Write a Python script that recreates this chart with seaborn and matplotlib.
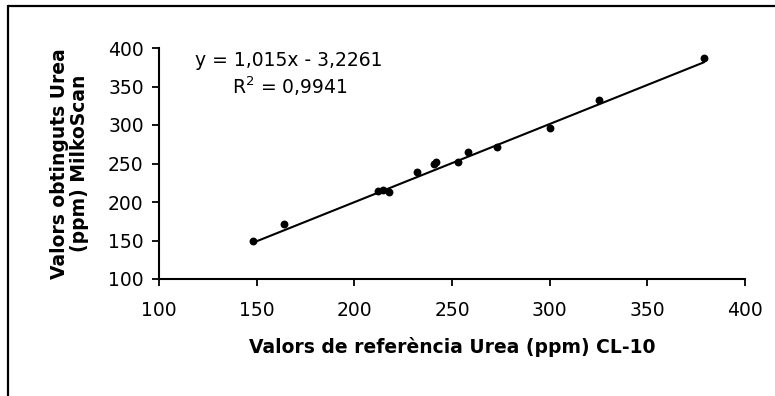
import matplotlib
matplotlib.use("Agg")
import matplotlib.pyplot as plt
import seaborn as sns
import numpy as np
import pandas as pd
from matplotlib.lines import Line2D

# Data
ref_cl10 = [148, 164, 212, 214.5, 217.5, 232, 241, 242, 253, 258, 273, 300, 325, 379]
milkoscan = [149, 172, 214, 215, 213, 239, 250, 252, 252, 265, 271, 296, 332, 387]
slope = 1.015
intercept = -3.2261
r2_text = "0,9941"
eq_text = "y = 1,015x - 3,2261"
x_ticks = [100, 150, 200, 250, 300, 350, 400]
y_ticks = [100, 150, 200, 250, 300, 350, 400]
x_label = "Valors de referència Urea (ppm) CL-10"
y_label = "Valors obtinguts Urea\n(ppm) MilkoScan"

sns.set_style("white")
plt.rcParams['font.family'] = ['DejaVu Sans']
plt.rcParams['text.color'] = 'black'
plt.rcParams['axes.labelcolor'] = 'black'

df = pd.DataFrame({"x": ref_cl10, "y": milkoscan})
xs = np.array([min(ref_cl10), max(ref_cl10)])
fit = pd.DataFrame({"x": xs, "y": slope * xs + intercept})

fig = plt.figure(figsize=(7.75, 3.96), dpi=100)
ax = fig.add_axes([159/775, 1 - 279/396, (745-159)/775, (279-48)/396])

sns.lineplot(data=fit, x="x", y="y", ax=ax, color="black", linewidth=1.5)
sns.scatterplot(data=df, x="x", y="y", ax=ax, color="black", s=32,
                edgecolor="black", linewidth=0, zorder=3)

ax.set_xlim(100, 400)
ax.set_ylim(100, 400)
ax.set_xticks(x_ticks)
ax.set_yticks(y_ticks)
ax.tick_params(axis="both", direction="out", length=5, width=1.3,
               labelsize=13.5, color="black", labelcolor="black",
               bottom=True, left=True)
ax.tick_params(axis="x", pad=11)
ax.tick_params(axis="y", pad=6)
for s in ["top", "right"]:
    ax.spines[s].set_visible(False)
for s in ["left", "bottom"]:
    ax.spines[s].set_color("black")
    ax.spines[s].set_linewidth(1.5)

ax.set_xlabel(x_label, fontsize=13.5, fontweight="bold", labelpad=12, color="black")
ax.set_ylabel(y_label, fontsize=13.5, fontweight="bold", linespacing=1.05, color="black")
ax.yaxis.set_label_coords((89 - 159) / 586, 0.5)

ax.text(166.6, 384, eq_text, fontsize=13.5, ha="center", va="center", color="black")
ax.text(167, 350, "R$^2$ = " + r2_text, fontsize=13.5, ha="center", va="center", color="black")

# figure border (top and left visible)
fig.add_artist(Line2D([8/775, 8/775], [0, 1 - 6/396], transform=fig.transFigure,
                      color="black", linewidth=1.6))
fig.add_artist(Line2D([8/775, 1], [1 - 6/396, 1 - 6/396], transform=fig.transFigure,
                      color="black", linewidth=1.6))

fig.savefig("out.png", dpi=100)
